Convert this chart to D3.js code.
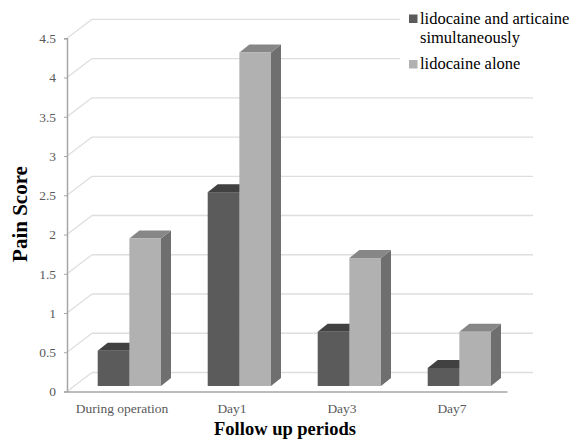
<!DOCTYPE html>
<html>
<head>
<meta charset="utf-8">
<script src="https://cdn.jsdelivr.net/npm/d3@7/dist/d3.min.js"></script>
<style>
  html, body { margin: 0; padding: 0; background: #fff; }
  svg { display: block; }
  .serif { font-family: "Liberation Serif", "Times New Roman", serif; }
</style>
</head>
<body>
<svg id="chart" width="570" height="439"></svg>
<script>
// Pain score by follow-up period for the two anaesthetic regimens
const categories = ["During operation", "Day1", "Day3", "Day7"];
const seriesNames = ["lidocaine and articaine simultaneously", "lidocaine alone"];
const combinedScores = [0.45, 2.47, 0.69, 0.23];
const lidocaineAloneScores = [1.88, 4.25, 1.63, 0.69];
const yTicks = [0, 0.5, 1, 1.5, 2, 2.5, 3, 3.5, 4, 4.5];

const seriesValues = [combinedScores, lidocaineAloneScores];

// face colours: front, top, side
const palette = [
  { front: "#5b5b5b", top: "#414141", side: "#3a3a3a" },
  { front: "#b1b1b1", top: "#878787", side: "#6f6f6f" }
];

const svg = d3.select("#chart");

const x0 = 67, x1End = 507;
const y = d3.scaleLinear().domain([0, 4.5]).range([391.5, 38.3]);
const x = d3.scaleBand().domain(categories).range([x0, x1End]);
const xs = d3.scaleBand().domain(seriesNames).range([23.5, 86.8]);

// 3D depth: back wall offset, bar placement inside the depth, bar thickness
const wall = { dx: 25, dy: -19 };
const barShift = { dx: 7.2, dy: -5.5 };
const barDepth = { dx: 10, dy: -8 };

// back wall gridlines and the diagonal connectors on the left side wall
const grid = svg.append("g");
yTicks.forEach(t => {
  const yy = y(t);
  grid.append("line")
    .attr("x1", x0 + wall.dx).attr("x2", x1End + wall.dx + 1)
    .attr("y1", yy + wall.dy).attr("y2", yy + wall.dy)
    .attr("stroke", "#dedede").attr("stroke-width", 1.3);
  grid.append("line")
    .attr("x1", x0).attr("x2", x0 + wall.dx)
    .attr("y1", yy).attr("y2", yy + wall.dy)
    .attr("stroke", "#dedede").attr("stroke-width", 1.3);
});

// bars as prisms
const bars = svg.append("g");
categories.forEach((c, i) => {
  seriesNames.forEach((s, j) => {
    const v = seriesValues[j][i];
    const col = palette[j];
    const left = x(c) + xs(s) + barShift.dx;
    const right = left + xs.bandwidth();
    const top = y(v) + barShift.dy;
    const bottom = y(0) + barShift.dy;
    const g = bars.append("g");
    // side face
    g.append("polygon")
      .attr("points", [
        [right, top], [right + barDepth.dx, top + barDepth.dy],
        [right + barDepth.dx, bottom + barDepth.dy], [right, bottom]
      ].map(p => p.join(",")).join(" "))
      .attr("fill", col.side);
    // top face
    g.append("polygon")
      .attr("points", [
        [left, top], [left + barDepth.dx, top + barDepth.dy],
        [right + barDepth.dx, top + barDepth.dy], [right, top]
      ].map(p => p.join(",")).join(" "))
      .attr("fill", col.top);
    // front face
    g.append("rect")
      .attr("x", left).attr("y", top)
      .attr("width", xs.bandwidth()).attr("height", bottom - top)
      .attr("fill", col.front);
  });
});

// value axis
const yAxis = d3.axisLeft(y).tickValues(yTicks).tickSize(3).tickPadding(8)
  .tickFormat(d3.format("~g"));
const ya = svg.append("g").attr("transform", `translate(${x0},0)`).call(yAxis)
  .attr("font-family", null);
ya.select(".domain").attr("stroke", "#a6a6a6").attr("stroke-width", 1.5);
ya.selectAll(".tick line").attr("stroke", "#a6a6a6");
ya.selectAll(".tick text").attr("class", "serif")
  .attr("font-size", 13.5).attr("fill", "#595959");

// category axis (floor edge)
const xAxis = d3.axisBottom(x).tickSize(0).tickPadding(12);
const xa = svg.append("g").attr("transform", `translate(0,${y(0)})`).call(xAxis)
  .attr("font-family", null);
xa.select(".domain").attr("stroke", "#a6a6a6").attr("stroke-width", 1.5);
xa.selectAll(".tick text").attr("class", "serif")
  .attr("font-size", 13.5).attr("fill", "#595959");

// axis titles
svg.append("text").attr("class", "serif")
  .attr("transform", "translate(27,214) rotate(-90)")
  .attr("text-anchor", "middle")
  .attr("font-weight", "bold").attr("font-size", 21)
  .attr("fill", "#000")
  .text("Pain Score");

svg.append("text").attr("class", "serif")
  .attr("x", 285).attr("y", 435)
  .attr("text-anchor", "middle")
  .attr("font-weight", "bold").attr("font-size", 18.5)
  .attr("fill", "#000")
  .text("Follow up periods");

// legend
const legend = svg.append("g");
legend.append("rect").attr("x", 400).attr("y", 0).attr("width", 170).attr("height", 78)
  .attr("fill", "#fff");
const legendRows = [
  { lines: ["lidocaine and articaine", "simultaneously"], y: 23.5 },
  { lines: ["lidocaine alone"], y: 69 }
];
legendRows.forEach((row, j) => {
  legend.append("rect")
    .attr("x", 409).attr("y", row.y - 9).attr("width", 8.5).attr("height", 8.5)
    .attr("fill", palette[j].front);
  const t = legend.append("text").attr("class", "serif")
    .attr("font-size", 16.5).attr("fill", "#000");
  row.lines.forEach((ln, k) => {
    t.append("tspan").attr("x", 420).attr("y", row.y + k * 19.5).text(ln);
  });
});
</script>
</body>
</html>
